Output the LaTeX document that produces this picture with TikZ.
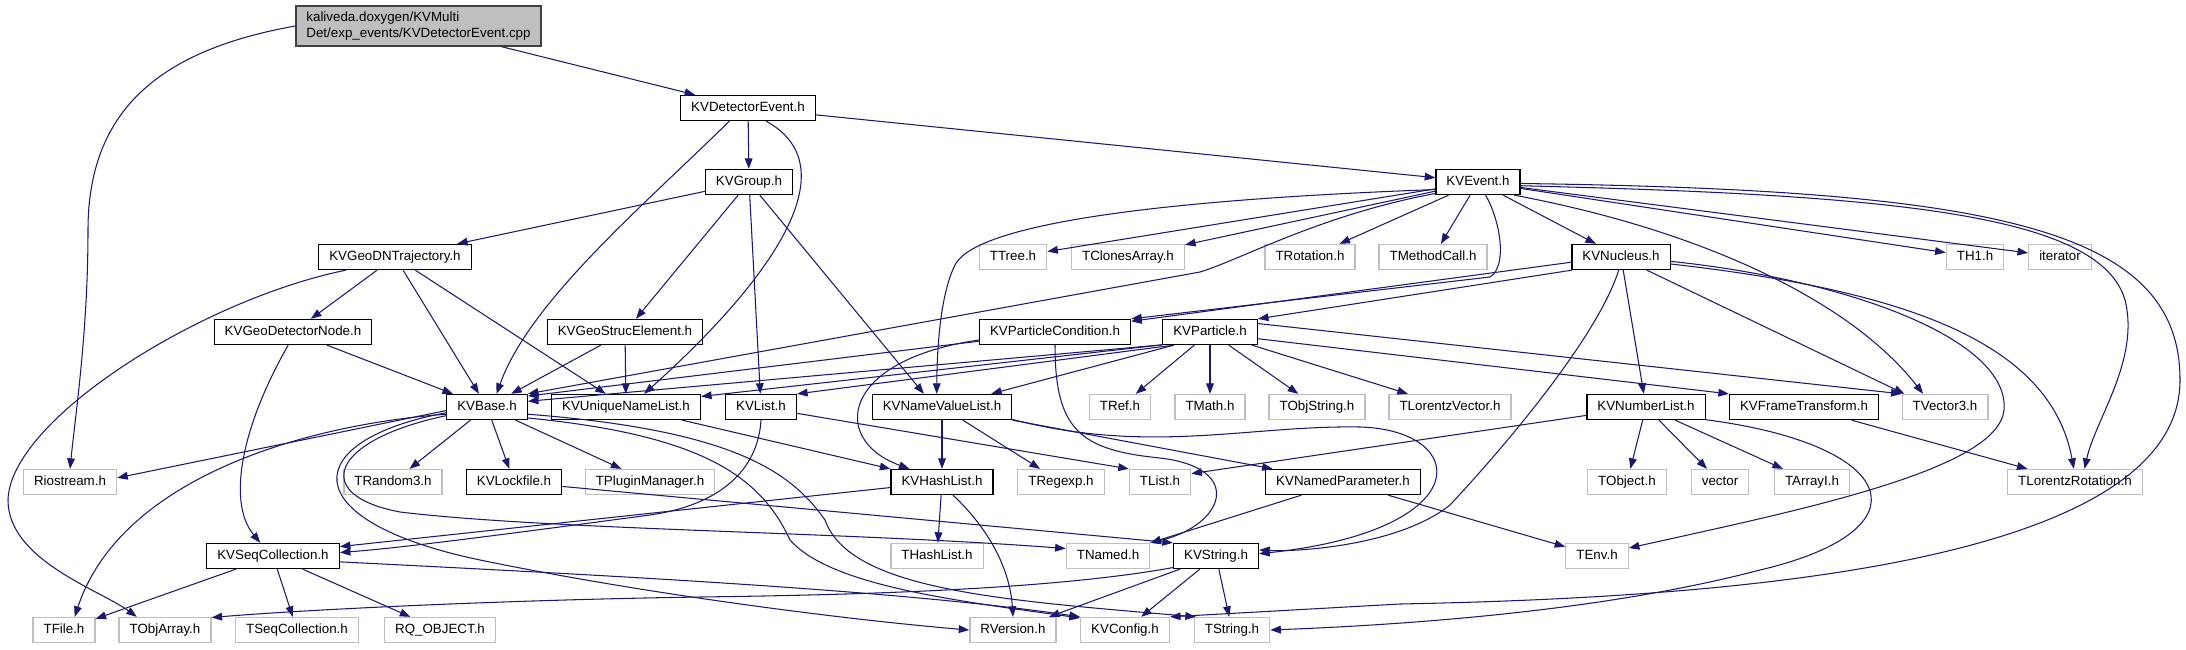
\documentclass[tikz,border=0pt]{standalone}
\usepackage{fontspec}
\setmainfont{Liberation Sans}
\usetikzlibrary{arrows.meta}
\definecolor{dxedge}{RGB}{25,25,112}
\definecolor{dxgray}{RGB}{191,191,191}
\definecolor{dxframe}{RGB}{64,64,64}
\tikzset{
  kvfile/.style={draw=black,line width=0.75pt,fill=white,minimum height=0.5cm,
    inner xsep=6pt,inner ysep=0pt,text height=5.6pt,text depth=1.6pt,
    font=\fontsize{7.6}{8.8}\selectfont},
  extfile/.style={kvfile,draw=dxgray},
  srcfile/.style={draw=dxframe,line width=0.75pt,fill=dxgray,minimum width=4.9cm,
    minimum height=0.8cm,inner sep=0pt,align=left,font=\fontsize{7.6}{8.8}\selectfont},
  incl/.style={draw=dxedge,line width=0.6pt,-{Triangle[length=6pt,width=4.4pt]}},
}

\begin{document}
\begin{tikzpicture}[x=0.02cm,y=-0.02cm]
        \useasboundingbox (0,0) rectangle (2186,649);
        \node[srcfile] (root) at (418.5,26) {kaliveda.doxygen/KVMulti\\Det/exp\_events/KVDetectorEvent.cpp};
        \node[kvfile] (det) at (748,108) {KVDetectorEvent.h};
        \node[kvfile] (grp) at (749,182) {KVGroup.h};
        \node[kvfile] (evt) at (1478,182) {KVEvent.h};
        \node[kvfile] (traj) at (395,257) {KVGeoDNTrajectory.h};
        \node[extfile] (ttree) at (1013,257) {TTree.h};
        \node[extfile] (tclones) at (1128,257) {TClonesArray.h};
        \node[extfile] (trot) at (1310,257) {TRotation.h};
        \node[extfile] (tmeth) at (1433,257) {TMethodCall.h};
        \node[kvfile] (nuc) at (1621,257) {KVNucleus.h};
        \node[extfile] (th1) at (1975,257) {TH1.h};
        \node[extfile] (iter) at (2060,257) {iterator};
        \node[kvfile] (gnode) at (293,332) {KVGeoDetectorNode.h};
        \node[kvfile] (gstruc) at (625,332) {KVGeoStrucElement.h};
        \node[kvfile] (pcond) at (1055,332) {KVParticleCondition.h};
        \node[kvfile] (part) at (1210,332) {KVParticle.h};
        \node[kvfile] (base) at (487,407) {KVBase.h};
        \node[kvfile] (uniq) at (626,407) {KVUniqueNameList.h};
        \node[kvfile] (klist) at (761,407) {KVList.h};
        \node[kvfile] (nvl) at (942,407) {KVNameValueList.h};
        \node[extfile] (tref) at (1120,407) {TRef.h};
        \node[extfile] (tmath) at (1210,407) {TMath.h};
        \node[extfile] (tobjstr) at (1317,407) {TObjString.h};
        \node[extfile] (tlv) at (1450,407) {TLorentzVector.h};
        \node[kvfile] (numl) at (1646,407) {KVNumberList.h};
        \node[kvfile] (frame) at (1804,407) {KVFrameTransform.h};
        \node[extfile] (tvec) at (1945,407) {TVector3.h};
        \node[extfile] (rio) at (70,482) {Riostream.h};
        \node[extfile] (trand) at (393,482) {TRandom3.h};
        \node[kvfile] (lock) at (514,482) {KVLockfile.h};
        \node[extfile] (tplug) at (650,482) {TPluginManager.h};
        \node[kvfile] (hash) at (942,482) {KVHashList.h};
        \node[extfile] (regexp) at (1061,482) {TRegexp.h};
        \node[extfile] (tlist) at (1160,482) {TList.h};
        \node[kvfile] (npar) at (1343,482) {KVNamedParameter.h};
        \node[extfile] (tobject) at (1627,482) {TObject.h};
        \node[extfile] (vec) at (1720,482) {vector};
        \node[extfile] (tarr) at (1812,482) {TArrayI.h};
        \node[extfile] (tlr) at (2075,482) {TLorentzRotation.h};
        \node[kvfile] (seq) at (273,556) {KVSeqCollection.h};
        \node[extfile] (thash) at (937,556) {THashList.h};
        \node[extfile] (tnamed) at (1108,556) {TNamed.h};
        \node[kvfile] (kvstr) at (1216,556) {KVString.h};
        \node[extfile] (tenv) at (1597,556) {TEnv.h};
        \node[extfile] (tfile) at (64,630) {TFile.h};
        \node[extfile] (tobjarr) at (165,630) {TObjArray.h};
        \node[extfile] (tseq) at (297,630) {TSeqCollection.h};
        \node[extfile] (rq) at (440,630) {RQ\_OBJECT.h};
        \node[extfile] (rver) at (1013,630) {RVersion.h};
        \node[extfile] (kvconf) at (1125,630) {KVConfig.h};
        \node[extfile] (tstr) at (1232,630) {TString.h};

        \draw[incl] (root) -- (det);
        \draw[incl] (root.west) .. controls (160,50) and (88,110) .. (88,230) .. controls (88,330) and (76,410) .. (rio.north);
        \draw[incl] (det) -- (grp);
        \draw[incl] (det) -- (evt);
        \draw[incl] (det.-145) .. controls (650,200) and (530,300) .. (base.54);
        \draw[incl] (det.-36) .. controls (855,170) and (760,290) .. (uniq.36);
        \draw[incl] (grp) -- (traj);
        \draw[incl] (grp) -- (gstruc);
        \draw[incl] (grp) -- (klist);
        \draw[incl] (grp) -- (nvl.144);
        \draw[incl] (traj) -- (gnode);
        \draw[incl] (traj) -- (base);
        \draw[incl] (traj) -- (uniq);
        \draw[incl] (traj.-165) .. controls (200,300) and (10,420) .. (8,500) .. controls (8,560) and (100,590) .. (tobjarr.155);
        \draw[incl] (gnode) -- (base);
        \draw[incl] (gnode.-110) .. controls (245,420) and (225,500) .. (seq.134);
        \draw[incl] (gstruc) -- (base);
        \draw[incl] (gstruc) -- (uniq);

        \draw[incl] (evt) -- (ttree);
        \draw[incl] (evt) -- (tclones);
        \draw[incl] (evt) -- (trot);
        \draw[incl] (evt) -- (tmeth);
        \draw[incl] (evt) -- (nuc);
        \draw[incl] (evt) -- (th1);
        \draw[incl] (evt) -- (iter);
        \draw[incl] (evt.190) .. controls (1150,200) and (975,225) .. (955,265) .. controls (940,295) and (937,350) .. (nvl.112);
        \draw[incl] (evt.195) .. controls (1320,215) and (1240,260) .. (1200,272) -- (base.north east);
        \draw[incl] (evt.-60) .. controls (1500,220) and (1508,266) .. (1490,277) -- (pcond.north east);
        \draw[incl] (evt.-20) .. controls (1700,230) and (1850,300) .. (tvec.149);
        \draw[incl] (evt.-5) .. controls (1900,195) and (2100,215) .. (2125,300) .. controls (2140,360) and (2095,420) .. (tlr.54);
        \draw[incl] (evt.-2) .. controls (2000,190) and (2180,230) .. (2180,380) .. controls (2180,570) and (1700,598) .. (1400,604) -- (kvconf.north east);

        \draw[incl] (nuc.-165) -- (part.north east);
        \draw[incl] (nuc.-174) -- (pcond.8);
        \draw[incl] (nuc) -- (numl);
        \draw[incl] (nuc.-27) -- (tvec.162);
        \draw[incl] (nuc.-100) .. controls (1600,330) and (1520,430) .. (1450,505) .. controls (1400,545) and (1300,552) .. (kvstr.8);
        \draw[incl] (nuc.-5) .. controls (1850,280) and (2010,340) .. (2004,410) .. controls (1998,470) and (1800,510) .. (tenv.14);
        \draw[incl] (nuc.-8) .. controls (1900,290) and (2050,340) .. (tlr.95);

        \draw[incl] (pcond) -- (base.15);
        \draw[incl] (pcond.186) .. controls (840,360) and (830,440) .. (hash.158);
        \draw[incl] (pcond.south) .. controls (1055,430) and (1080,450) .. (1160,458) .. controls (1245,468) and (1225,525) .. (tnamed.north east);

        \draw[incl] (part.-165) -- (base.8);
        \draw[incl] (part.-165) -- (uniq.8);
        \draw[incl] (part.-160) -- (klist.20);
        \draw[incl] (part.-160) -- (nvl.15);
        \draw[incl] (part) -- (tref);
        \draw[incl] (part) -- (tmath);
        \draw[incl] (part) -- (tobjstr);
        \draw[incl] (part) -- (tlv);
        \draw[incl] (part.-8) -- (frame.north west);
        \draw[incl] (part.10) -- (tvec.north west);

        \draw[incl] (base.-175) -- (rio.5);
        \draw[incl] (base.-170) .. controls (300,425) and (120,480) .. (tfile.51);
        \draw[incl] (base) -- (trand);
        \draw[incl] (base) -- (lock);
        \draw[incl] (base) -- (tplug);
        \draw[incl] (base.-172) .. controls (300,440) and (290,520) .. (480,560) .. controls (650,595) and (850,620) .. (rver.west);
        \draw[incl] (base.-168) .. controls (330,440) and (310,495) .. (400,512) .. controls (550,530) and (850,532) .. (tnamed.170);
        \draw[incl] (base.-15) .. controls (700,435) and (760,475) .. (790,540) .. controls (830,585) and (950,600) .. (kvconf.165);
        \draw[incl] (base.-10) .. controls (730,430) and (790,470) .. (825,520) .. controls (850,590) and (1000,600) .. (tstr.160);

        \draw[incl] (uniq) -- (hash.north west);
        \draw[incl] (klist.south) .. controls (758,470) and (720,505) .. (650,515) .. controls (500,535) and (400,548) .. (seq.3);
        \draw[incl] (klist.-10) -- (tlist.north west);
        \draw[incl] (nvl) -- (hash);
        \draw[incl] (nvl) -- (regexp);
        \draw[incl] (nvl) -- (npar);
        \draw[incl] (nvl.-10) .. controls (1150,455) and (1250,425) .. (1360,427) .. controls (1470,430) and (1480,530) .. (kvstr.3);
        \draw[incl] (hash) -- (seq.8);
        \draw[incl] (hash) -- (thash);
        \draw[incl] (hash.-50) .. controls (990,530) and (1010,570) .. (rver.north);
        \draw[incl] (npar) -- (tnamed.north east);
        \draw[incl] (npar) -- (tenv);
        \draw[incl] (numl.-172) -- (tlist.15);
        \draw[incl] (numl) -- (tobject);
        \draw[incl] (numl) -- (vec);
        \draw[incl] (numl) -- (tarr);
        \draw[incl] (numl.-12) .. controls (1900,445) and (1930,530) .. (1760,570) .. controls (1600,612) and (1400,625) .. (tstr.east);
        \draw[incl] (frame) -- (tlr);
        \draw[incl] (lock) -- (kvstr.north west);

        \draw[incl] (kvstr.-165) .. controls (1050,590) and (850,595) .. (700,597) .. controls (500,600) and (300,610) .. (tobjarr.15);
        \draw[incl] (kvstr) -- (rver);
        \draw[incl] (kvstr) -- (kvconf);
        \draw[incl] (kvstr) -- (tstr);
        \draw[incl] (seq) -- (tfile);
        \draw[incl] (seq) -- (tseq);
        \draw[incl] (seq) -- (rq);
        \draw[incl] (seq.-5) .. controls (600,575) and (900,590) .. (kvconf.north west);
      \end{tikzpicture}
\end{document}
